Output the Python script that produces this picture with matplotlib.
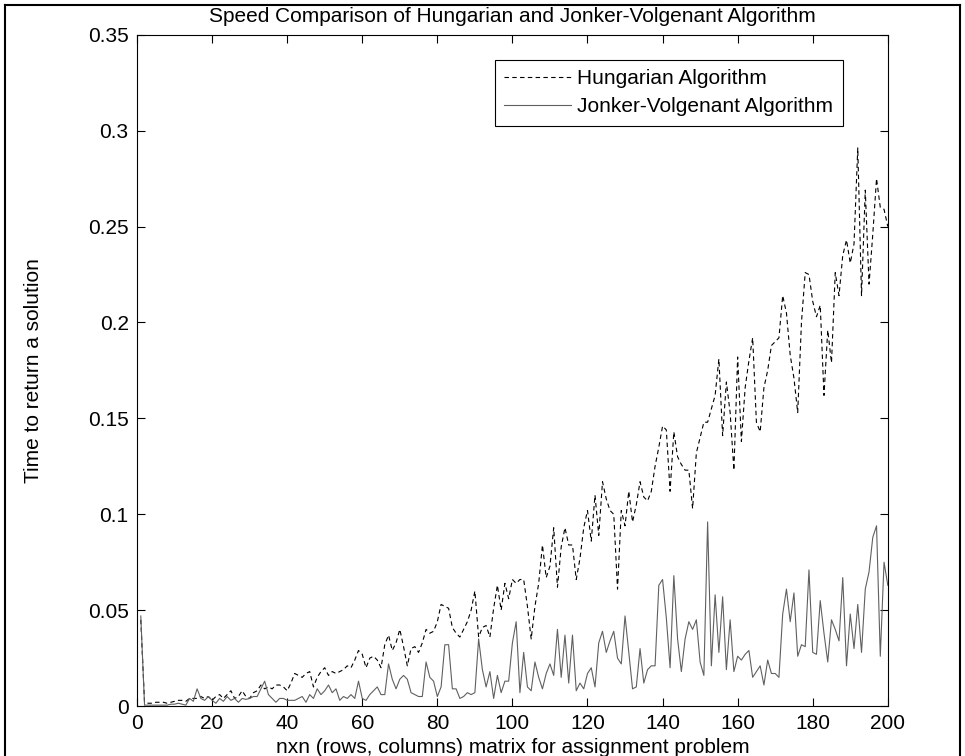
import numpy as np
import matplotlib
matplotlib.use("Agg")
from matplotlib import pyplot as plt
from matplotlib.lines import Line2D

plt.rcParams['font.family'] = ['Liberation Sans', 'DejaVu Sans']

# matrix size n for each run
n = np.arange(1, 201)

# seconds taken by the Hungarian algorithm (one value per n, 10 per row)
hungarian = [
    0.045, 0.002, 0.0015, 0.0015, 0.002, 0.002, 0.002, 0.0015, 0.002, 0.0025,
    0.003, 0.003, 0.0025, 0.004, 0.004, 0.004, 0.005, 0.004, 0.005, 0.003,
    0.005, 0.006, 0.004, 0.006, 0.008, 0.004, 0.005, 0.008, 0.005, 0.004,
    0.007, 0.008, 0.011, 0.009, 0.010, 0.009, 0.011, 0.011, 0.010, 0.008,
    0.012, 0.017, 0.016, 0.015, 0.017, 0.018, 0.010, 0.015, 0.018, 0.020,
    0.016, 0.018, 0.017, 0.018, 0.019, 0.021, 0.020, 0.024, 0.029, 0.027,
    0.020, 0.025, 0.026, 0.024, 0.020, 0.032, 0.037, 0.029, 0.033, 0.040,
    0.031, 0.021, 0.030, 0.031, 0.028, 0.033, 0.040, 0.038, 0.039, 0.044,
    0.053, 0.052, 0.051, 0.041, 0.038, 0.036, 0.040, 0.044, 0.050, 0.060,
    0.036, 0.041, 0.042, 0.036, 0.051, 0.063, 0.050, 0.064, 0.056, 0.066,
    0.064, 0.066, 0.066, 0.052, 0.035, 0.052, 0.064, 0.084, 0.067, 0.073,
    0.093, 0.062, 0.083, 0.093, 0.084, 0.084, 0.066, 0.077, 0.093, 0.102,
    0.086, 0.110, 0.089, 0.117, 0.108, 0.102, 0.100, 0.061, 0.102, 0.094,
    0.112, 0.096, 0.105, 0.117, 0.109, 0.107, 0.112, 0.125, 0.135, 0.146,
    0.144, 0.112, 0.143, 0.130, 0.126, 0.123, 0.123, 0.103, 0.132, 0.140,
    0.148, 0.148, 0.155, 0.162, 0.181, 0.141, 0.169, 0.153, 0.123, 0.182,
    0.138, 0.166, 0.180, 0.192, 0.148, 0.143, 0.166, 0.175, 0.188, 0.190,
    0.192, 0.214, 0.205, 0.183, 0.171, 0.153, 0.200, 0.226, 0.225, 0.211,
    0.203, 0.209, 0.162, 0.196, 0.179, 0.226, 0.214, 0.235, 0.243, 0.231,
    0.241, 0.291, 0.214, 0.269, 0.220, 0.246, 0.275, 0.260, 0.259, 0.250,
]

# seconds taken by Jonker-Volgenant
jonker = [
    0.047, 0.0005, 0.0005, 0.0005, 0.0005, 0.0005, 0.0005, 0.0005, 0.001, 0.001,
    0.0015, 0.001, 0.0005, 0.004, 0.0025, 0.009, 0.004, 0.003, 0.005, 0.003,
    0.0015, 0.004, 0.0025, 0.005, 0.003, 0.004, 0.002, 0.004, 0.0035, 0.004,
    0.005, 0.005, 0.009, 0.013, 0.006, 0.004, 0.002, 0.004, 0.004, 0.003,
    0.003, 0.003, 0.004, 0.005, 0.002, 0.006, 0.004, 0.009, 0.006, 0.008,
    0.011, 0.007, 0.009, 0.003, 0.005, 0.004, 0.006, 0.004, 0.013, 0.004,
    0.003, 0.006, 0.008, 0.010, 0.006, 0.006, 0.022, 0.014, 0.009, 0.014,
    0.016, 0.014, 0.007, 0.006, 0.005, 0.005, 0.023, 0.015, 0.013, 0.005,
    0.010, 0.032, 0.032, 0.009, 0.009, 0.004, 0.005, 0.007, 0.006, 0.007,
    0.035, 0.019, 0.010, 0.018, 0.004, 0.016, 0.007, 0.013, 0.013, 0.033,
    0.044, 0.007, 0.028, 0.010, 0.008, 0.023, 0.015, 0.009, 0.017, 0.022,
    0.016, 0.040, 0.015, 0.037, 0.012, 0.037, 0.008, 0.012, 0.009, 0.017,
    0.020, 0.010, 0.033, 0.039, 0.028, 0.034, 0.039, 0.025, 0.022, 0.047,
    0.028, 0.009, 0.010, 0.030, 0.012, 0.019, 0.021, 0.021, 0.063, 0.066,
    0.046, 0.020, 0.068, 0.035, 0.018, 0.035, 0.044, 0.040, 0.045, 0.023,
    0.016, 0.096, 0.021, 0.058, 0.028, 0.057, 0.019, 0.045, 0.018, 0.026,
    0.024, 0.027, 0.029, 0.015, 0.018, 0.021, 0.011, 0.024, 0.017, 0.017,
    0.015, 0.048, 0.061, 0.044, 0.059, 0.026, 0.032, 0.031, 0.071, 0.028,
    0.027, 0.055, 0.038, 0.023, 0.045, 0.040, 0.034, 0.067, 0.021, 0.048,
    0.030, 0.053, 0.028, 0.061, 0.070, 0.088, 0.094, 0.026, 0.075, 0.063,
]

fig = plt.figure(figsize=(9.65, 7.56), dpi=100)
ax = fig.add_axes([0.142, 0.066, 0.778, 0.888])

ax.plot(n, hungarian, color='black', lw=0.8, linestyle=(0, (4, 3)),
        label='Hungarian Algorithm')
ax.plot(n, jonker, color='#606060', lw=0.8, label='Jonker-Volgenant Algorithm')

ax.set_xlim(0, 200)
ax.set_ylim(0, 0.35)
ax.set_xticks(np.arange(0, 201, 20))
ax.set_yticks(np.arange(0, 0.351, 0.05))
ax.set_yticklabels(['0', '0.05', '0.1', '0.15', '0.2', '0.25', '0.3', '0.35'])
ax.tick_params(direction='in', length=6, width=0.8, top=True, right=True,
               labelsize=15, pad=6)
for s in ax.spines.values():
    s.set_linewidth(0.8)

ax.set_title('Speed Comparison of Hungarian and Jonker-Volgenant Algorithm',
             fontsize=15, pad=9)
ax.set_xlabel('nxn (rows, columns) matrix for assignment problem', fontsize=15,
              labelpad=3)
ax.set_ylabel('Time to return a solution', fontsize=15, labelpad=32)

leg = ax.legend(loc='upper right', bbox_to_anchor=(0.940, 0.963), fontsize=15,
                borderaxespad=0, fancybox=False, framealpha=1,
                edgecolor='black', handlelength=3.2, handletextpad=0.3,
                borderpad=0.45, labelspacing=0.45)
leg.get_frame().set_linewidth(0.8)

# outer frame around the figure
for xs, ys in [([0.005, 0.005], [0.0, 0.993]),
               ([0.005, 0.995], [0.993, 0.993]),
               ([0.995, 0.995], [0.0, 0.993])]:
    fig.add_artist(Line2D(xs, ys, color='black', lw=1.5,
                          transform=fig.transFigure))

fig.savefig('out.png', dpi=100)
